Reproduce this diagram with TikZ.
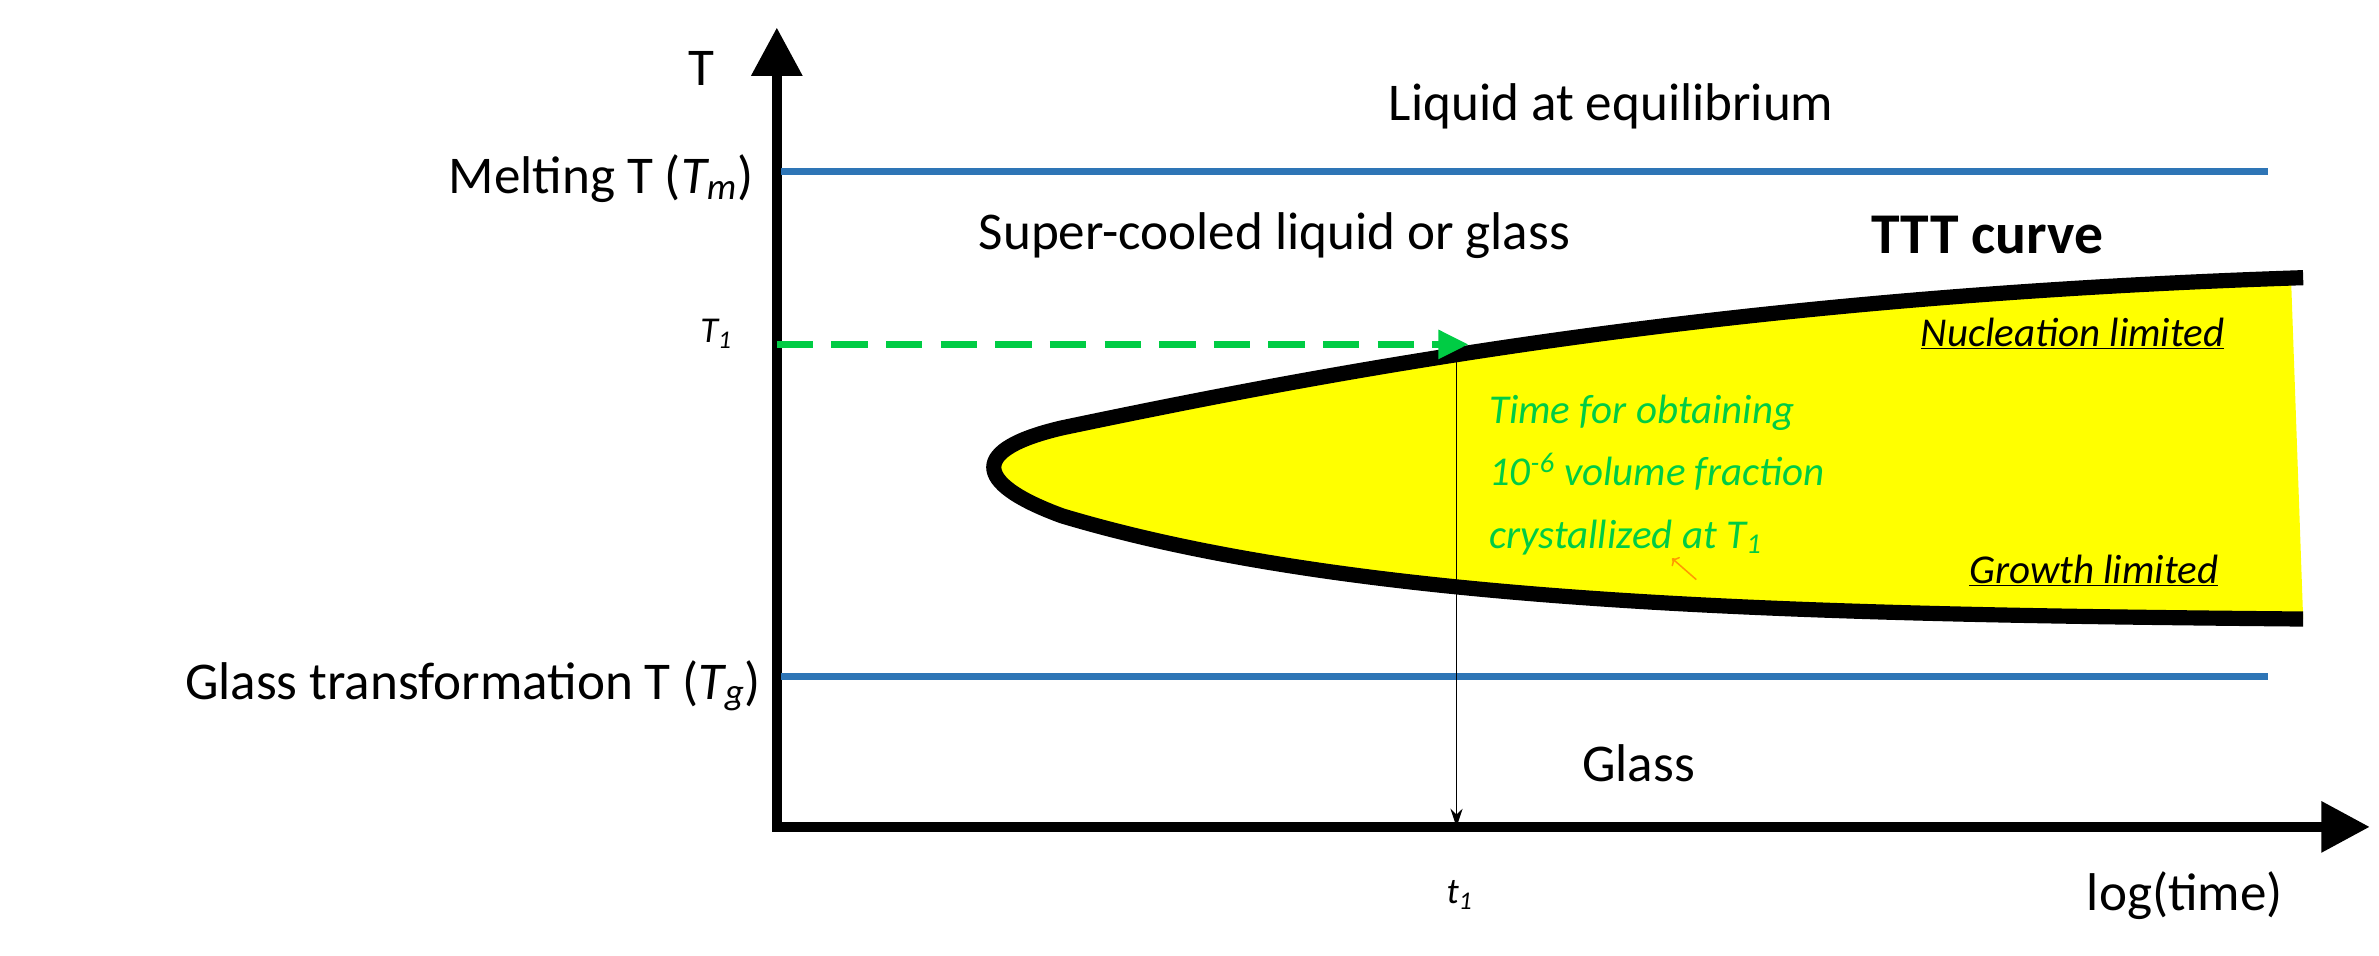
\documentclass[tikz,border=0pt]{standalone}
\usepackage{fontspec}
\setmainfont{Carlito}
\usetikzlibrary{arrows.meta}
\definecolor{lblue}{RGB}{46,117,182}
\definecolor{lgreen}{RGB}{0,204,68}
\definecolor{lyel}{RGB}{255,255,0}
\begin{document}
\begin{tikzpicture}[x=1pt,y=-1pt,
  big/.style={font=\fontsize{35}{40}\selectfont},
  mid/.style={font=\fontsize{27}{32}\selectfont\itshape},
  sm/.style={font=\fontsize{24}{28}\selectfont\itshape},
  axis/.style={line width=7pt,-{Triangle[length=32pt,width=32pt]}},
  hline/.style={lblue,line width=5pt}]
\useasboundingbox (0,0) rectangle (1568,630);
% TTT region
\fill[lyel] (1500,183) .. controls (1150,195) and (900,240) .. (700,282)
  .. controls (640,296) and (640,318) .. (700,340)
  .. controls (900,400) and (1200,405) .. (1518,408) -- (1510,183) -- cycle;
\draw[line width=10pt,line join=round] (1518,183) .. controls (1150,195) and (900,240) .. (700,282)
  .. controls (640,296) and (640,318) .. (700,340)
  .. controls (900,400) and (1200,405) .. (1518,408);
\coordinate (o) at (512,545);
\coordinate (ty) at (512,18);
\coordinate (tx) at (1562,545);
\draw[axis] (512,548) -- (ty);
\draw[axis] (509,545) -- (tx);
\coordinate (m1) at (515,113); \coordinate (m2) at (1495,113);
\coordinate (g1) at (515,446); \coordinate (g2) at (1495,446);
\draw[hline] (m1) -- (m2);
\draw[hline] (g1) -- (g2);
\coordinate (d1) at (512,227); \coordinate (d2) at (968,227);
\draw[lgreen,line width=5pt,dash pattern=on 24pt off 12pt,-{Triangle[length=20pt,width=18pt]}] (d1) -- (d2);
\coordinate (v1) at (960,233); \coordinate (v2) at (960,545);
\draw[line width=1pt,-{Stealth[length=12pt,width=8pt]}] (v1) -- (v2);
\node[big] (tl) at (462,45) {T};
\node[big,anchor=east] (ml) at (500,118) {Melting T (\textit{T\textsubscript{m}})};
\node[big,anchor=east] (gl) at (505,452) {Glass transformation T (\textit{T\textsubscript{g}})};
\node[sm] (t1) at (472,220) {T\textsubscript{1}};
\node[sm] (tt1) at (962,590) {t\textsubscript{1}};
\node[big] (lt) at (1440,590) {log(time)};
\node[big] (liq) at (1062,70) {Liquid at equilibrium};
\node[big] (sc) at (840,155) {Super-cooled liquid or glass};
\node[big,font=\fontsize{38}{42}\selectfont\bfseries] (ttt) at (1310,155) {TTT curve};
\node[big] (gla) at (1080,503) {Glass};
\node[mid] (nl) at (1366,220) {\underline{Nucleation limited}};
\node[mid] (gro) at (1380,376) {\underline{Growth limited}};
\node[mid,lgreen,anchor=west,align=left,font=\fontsize{27}{41}\selectfont\itshape] (gt) at (978,313)
 {Time for obtaining\\10\textsuperscript{-6} volume fraction\\crystallized at T\textsubscript{1}};
\coordinate (oa) at (1118,382); \coordinate (ob) at (1102,368);
\draw[orange!80!yellow,line width=1pt,->] (oa) -- (ob);
\end{tikzpicture}
\end{document}
